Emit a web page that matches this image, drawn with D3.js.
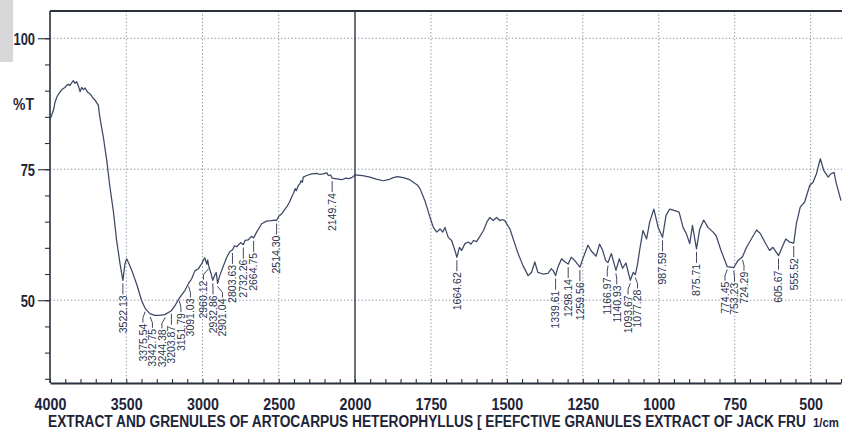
<!DOCTYPE html>
<html>
<head>
<meta charset="utf-8">
<script src="https://cdn.jsdelivr.net/npm/d3@7"></script>
<style>
  html, body { margin: 0; padding: 0; background: #ffffff; }
  svg { display: block; }
</style>
</head>
<body>
<svg id="chart" width="842" height="441"></svg>
<script>
// FTIR spectrum: wavenumber (1/cm) vs. transmittance (%T)
const wavenumbers = [
  4000, 3978, 3967, 3956, 3945, 3925, 3913, 3902, 3891, 3880, 3869, 3858, 3847, 3836, 3825, 3814,
  3803, 3792, 3781, 3770, 3760, 3749, 3738, 3727, 3716, 3705, 3694, 3683, 3676, 3665, 3650, 3628,
  3607, 3585, 3563, 3541, 3522.13, 3508, 3497, 3480, 3464, 3432, 3399, 3375.54, 3342.75, 3311,
  3279, 3244.38, 3203.87, 3180, 3151.79, 3115, 3091.03, 3071, 3050, 3028, 3005, 2995, 2985, 2972,
  2966, 2960.12, 2945, 2932.86, 2918, 2910, 2901.04, 2890, 2874, 2841, 2820, 2803.63, 2790, 2776,
  2750, 2732.26, 2721, 2700, 2680, 2664.75, 2645, 2612, 2580, 2550, 2525, 2514.30, 2500, 2481,
  2448, 2430, 2415, 2400, 2393, 2385, 2372, 2362, 2354, 2345, 2339, 2317, 2284, 2251, 2230, 2208,
  2185, 2175, 2160, 2149.74, 2131, 2110, 2087, 2060, 2044, 2020, 2004, 2000, 1975, 1951, 1930,
  1907, 1890, 1874, 1860, 1841, 1820, 1808, 1795, 1786, 1770, 1753, 1742, 1731, 1720, 1711, 1704,
  1693, 1682, 1671, 1664.62, 1656, 1649, 1638, 1627, 1618, 1610, 1600, 1594, 1577, 1566, 1556,
  1545, 1534, 1523, 1515, 1507, 1490, 1474, 1463, 1447, 1430, 1419, 1408, 1398, 1381, 1365, 1354,
  1348, 1339.61, 1332, 1320, 1308, 1298.14, 1288, 1277, 1259.56, 1250, 1233, 1222, 1206, 1195,
  1185, 1175, 1166.97, 1156, 1140.93, 1130, 1119, 1108, 1093.67, 1084, 1077.28, 1070, 1063, 1052,
  1040, 1030, 1016, 1002, 987.59, 976, 964, 947, 933, 920, 909, 898, 889, 875.71, 865, 852, 838,
  821, 811, 795, 774.45, 764, 753.23, 739, 724.29, 711, 689, 678, 665, 651, 635, 624, 605.67, 596,
  582, 569, 555.52, 547, 534, 520, 503, 492, 481, 468, 457, 442, 434, 423, 415, 400
];
const transmittance = [
  84.5, 86.2, 87.8, 88.7, 89.3, 90.1, 90.4, 90.6, 91.0, 91.2, 91.0, 91.5, 91.9, 91.4, 91.7, 90.9,
  89.8, 90.6, 90.2, 90.5, 90.0, 89.6, 89.4, 89.0, 88.5, 88.2, 87.7, 87.2, 85.5, 83.5, 81.1, 76.7,
  71.6, 67.1, 61.4, 57.0, 53.8, 57.0, 57.9, 56.8, 55.7, 53.1, 49.9, 48.4, 47.4, 47.1,
  47.1, 47.3, 48.0, 49.0, 50.4, 51.9, 53.2, 54.1, 55.6, 56.0, 57.0, 57.6, 58.1, 56.9,
  57.7, 56.6, 55.2, 53.8, 54.9, 55.3, 53.2, 54.4, 55.7, 58.2, 59.3, 59.6, 60.4, 60.2,
  61.0, 60.6, 61.4, 61.5, 62.2, 61.9, 63.0, 64.6, 65.1, 65.2, 65.3, 65.2, 66.0, 66.5,
  67.8, 68.7, 69.7, 70.6, 71.3, 70.9, 71.9, 72.2, 72.8, 72.5, 73.5, 73.8, 74.1, 74.2, 74.0, 74.1,
  74.3, 73.8, 73.9, 73.3, 73.2, 73.1, 73.0, 73.3, 73.2, 73.4, 73.8, 73.9, 73.8, 73.5, 73.1,
  72.8, 73.0, 73.4, 73.6, 73.4, 73.0, 72.5, 72.0, 71.3, 69.0, 65.8, 63.9, 63.0, 63.6, 63.0, 63.9,
  62.0, 61.4, 59.5, 58.2, 60.1, 59.5, 60.8, 61.1, 60.7, 61.4, 61.2, 61.7, 63.3, 64.9, 65.8,
  65.2, 65.8, 65.2, 65.4, 65.2, 63.6, 60.8, 58.9, 56.6, 54.7, 55.3, 57.3, 55.3, 55.0, 55.1, 56.0,
  55.7, 54.7, 56.3, 57.9, 57.3, 56.9, 58.2, 57.6, 56.3, 57.9, 60.5, 59.4, 58.4, 60.7,
  59.6, 57.6, 57.2, 58.9, 55.7, 57.9, 56.1, 57.1, 53.8, 55.3, 54.9, 56.8, 59.5, 63.3,
  61.7, 64.9, 67.4, 63.9, 62.0, 66.2, 67.4, 67.1, 66.8, 63.9, 62.7, 60.8, 64.3, 59.8, 63.6, 65.3, 63.9,
  63.0, 62.3, 59.5, 56.4, 56.3, 56.2, 57.6, 58.3, 60.1, 62.3, 63.4, 62.7, 61.1, 59.5, 60.1, 58.5, 59.8,
  61.7, 61.1, 60.9, 64.6, 67.8, 68.7, 71.9, 72.5, 74.1, 77.0, 74.8, 73.5, 74.1, 74.4, 72.2, 69.0
];

// Picked band positions (1/cm)
const peakWavenumbers = [
  3522.13, 3375.54, 3342.75, 3244.38, 3203.87, 3151.79, 3091.03, 2960.12, 2932.86, 2901.04,
  2803.63, 2732.26, 2664.75, 2514.30, 2149.74, 1664.62, 1339.61, 1298.14, 1259.56, 1166.97,
  1140.93, 1093.67, 1077.28, 987.59, 875.71, 774.45, 753.23, 724.29, 605.67, 555.52
];

const xTickValues = [4000, 3500, 3000, 2500, 2000, 1750, 1500, 1250, 1000, 750, 500];
const yTickValues = [100, 75, 50];
const yTitle = "%T";
const xTitle = "EXTRACT AND GRENULES OF ARTOCARPUS HETEROPHYLLUS [ EFEFCTIVE GRANULES EXTRACT OF JACK FRU";
const xUnit = "1/cm";

// ---------------------------------------------------------------
const W = 842, H = 441;
const frame = { left: 50, top: 11, bottom: 383, right: 842 };
const ink = "#1d2438";
const traceColor = "#3b4765";
const labelColor = "#2a3350";
const gridColor = "#8a8f9c";
const fontFamily = "'Liberation Sans', Arial, Helvetica, sans-serif";

const svg = d3.select("#chart");

// two-segment wavenumber axis (expanded below 2000 1/cm)
const x = d3.scaleLinear().domain([4000, 2000, 400]).range([50, 355, 841]);
const y = d3.scaleLinear().domain([34.2, 105.2]).range([frame.bottom, frame.top]);

svg.append("rect").attr("width", W).attr("height", H).attr("fill", "#ffffff");

// shaded corner patch
svg.append("rect").attr("x", 0).attr("y", 0).attr("width", 13).attr("height", 62).attr("fill", "#d7d7d9");

// dotted grid
const grid = svg.append("g");
grid.selectAll("line.v")
  .data(xTickValues.filter(d => d !== 4000 && d !== 2000))
  .join("line")
  .attr("class", "v")
  .attr("x1", d => x(d)).attr("x2", d => x(d))
  .attr("y1", frame.top).attr("y2", frame.bottom)
  .attr("stroke", gridColor).attr("stroke-width", 1)
  .attr("stroke-dasharray", "1.3,2.2");
grid.selectAll("line.h")
  .data(yTickValues)
  .join("line")
  .attr("class", "h")
  .attr("x1", frame.left).attr("x2", frame.right)
  .attr("y1", d => y(d)).attr("y2", d => y(d))
  .attr("stroke", gridColor).attr("stroke-width", 1)
  .attr("stroke-dasharray", "1.3,2.2");

// solid divider where the x scale changes
svg.append("line")
  .attr("x1", x(2000)).attr("x2", x(2000))
  .attr("y1", frame.top).attr("y2", frame.bottom)
  .attr("stroke", "#2f3442").attr("stroke-width", 1.4);

// top border
svg.append("line")
  .attr("x1", frame.left).attr("x2", frame.right)
  .attr("y1", frame.top).attr("y2", frame.top)
  .attr("stroke", "#2b303d").attr("stroke-width", 2);

// bottom axis: minor ticks every 100 (above 2000) / 50 (below 2000), pointing inward
const minorX = d3.range(4000, 2000, -100).concat(d3.range(2000, 399, -50));
const xMinor = svg.append("g")
  .attr("transform", `translate(0,${frame.bottom})`)
  .call(d3.axisBottom(x).tickValues(minorX).tickSize(-4).tickSizeOuter(0).tickFormat(""));
xMinor.select(".domain").attr("stroke", "#2b303d").attr("stroke-width", 2);
xMinor.selectAll(".tick line").attr("stroke", "#2b303d").attr("stroke-width", 1.1);

const xLabels = svg.append("g")
  .attr("transform", `translate(0,${frame.bottom})`)
  .call(d3.axisBottom(x).tickValues(xTickValues).tickSize(0).tickFormat(d3.format("d")));
xLabels.select(".domain").remove();
xLabels.selectAll(".tick text")
  .attr("y", 0).attr("dy", 0)
  .attr("transform", "translate(0,27) scale(0.84,1)")
  .attr("fill", ink)
  .attr("font-family", fontFamily)
  .attr("font-size", 17)
  .attr("font-weight", "bold");

// left axis
const yMinor = svg.append("g")
  .attr("transform", `translate(${frame.left},0)`)
  .call(d3.axisLeft(y).tickValues(d3.range(35, 101, 5)).tickSize(5).tickSizeOuter(0).tickFormat(""));
yMinor.select(".domain").remove();
yMinor.selectAll(".tick line").attr("stroke", "#2b303d").attr("stroke-width", 1.1);

const yMajor = svg.append("g")
  .attr("transform", `translate(${frame.left},0)`)
  .call(d3.axisLeft(y).tickValues(yTickValues).tickSize(12).tickSizeOuter(0).tickFormat(d3.format("d")));
yMajor.select(".domain").remove();
yMajor.selectAll(".tick line").attr("stroke", "#2b303d").attr("stroke-width", 1.1);
yMajor.selectAll(".tick text")
  .attr("x", 0).attr("dy", 0)
  .attr("transform", "translate(-15,6) scale(0.76,1)")
  .attr("fill", ink)
  .attr("font-family", fontFamily)
  .attr("font-size", 17)
  .attr("font-weight", "bold");

svg.append("line")
  .attr("x1", frame.left).attr("x2", frame.left)
  .attr("y1", frame.top).attr("y2", frame.bottom)
  .attr("stroke", "#2b303d").attr("stroke-width", 1.6);

svg.append("text")
  .attr("transform", "translate(13,110) scale(0.82,1)")
  .attr("fill", ink)
  .attr("font-family", fontFamily)
  .attr("font-size", 17)
  .attr("font-weight", "bold")
  .text(yTitle);

// spectrum trace
const spectrum = wavenumbers.map((w, i) => ({ w, t: transmittance[i] }));
svg.append("clipPath").attr("id", "plotClip")
  .append("rect").attr("x", frame.left).attr("y", frame.top)
  .attr("width", frame.right - frame.left).attr("height", frame.bottom - frame.top);

svg.append("path")
  .datum(spectrum)
  .attr("clip-path", "url(#plotClip)")
  .attr("fill", "none")
  .attr("stroke", traceColor)
  .attr("stroke-width", 1.25)
  .attr("stroke-linejoin", "round")
  .attr("d", d3.line().x(d => x(d.w)).y(d => y(d.t)));

// band labels: spread crowded labels sideways, keep leaders tied to the trace
const peaks = peakWavenumbers.map(w => {
  const pt = spectrum.find(p => p.w === w);
  return { w, t: pt.t, cx: x(w), cy: y(pt.t), lx: x(w) };
}).sort((a, b) => a.cx - b.cx);

const minGap = 9.5;
for (let iter = 0; iter < 200; iter++) {
  let moved = false;
  for (let i = 1; i < peaks.length; i++) {
    const gap = peaks[i].lx - peaks[i - 1].lx;
    if (gap < minGap) {
      const push = (minGap - gap) / 2;
      peaks[i - 1].lx -= push;
      peaks[i].lx += push;
      moved = true;
    }
  }
  if (!moved) break;
}

const labels = svg.append("g");
const lab = labels.selectAll("g").data(peaks).join("g");
lab.append("polyline")
  .attr("points", d => `${d.cx},${d.cy + 3} ${d.lx},${d.cy + 9} ${d.lx},${d.cy + 14}`)
  .attr("fill", "none")
  .attr("stroke", labelColor)
  .attr("stroke-width", 0.9);
lab.append("text")
  .attr("transform", d => `translate(${d.lx + 3.8},${d.cy + 15}) rotate(-90)`)
  .attr("text-anchor", "end")
  .attr("fill", labelColor)
  .attr("font-family", fontFamily)
  .attr("font-size", 10.5)
  .text(d => d3.format(".2f")(d.w));

// axis caption, compressed horizontally to its printed width
function fitText(sel, left, baseline, width) {
  const natural = sel.node().getComputedTextLength();
  sel.attr("transform", `translate(${left},${baseline}) scale(${width / natural},1)`);
}
const caption = svg.append("text")
  .attr("fill", ink)
  .attr("font-family", fontFamily)
  .attr("font-size", 17)
  .attr("font-weight", "bold")
  .text(xTitle);
fitText(caption, 48, 427, 758);

const unit = svg.append("text")
  .attr("fill", ink)
  .attr("font-family", fontFamily)
  .attr("font-size", 13)
  .attr("font-weight", "bold")
  .text(xUnit);
fitText(unit, 813, 427, 26);
</script>
</body>
</html>
